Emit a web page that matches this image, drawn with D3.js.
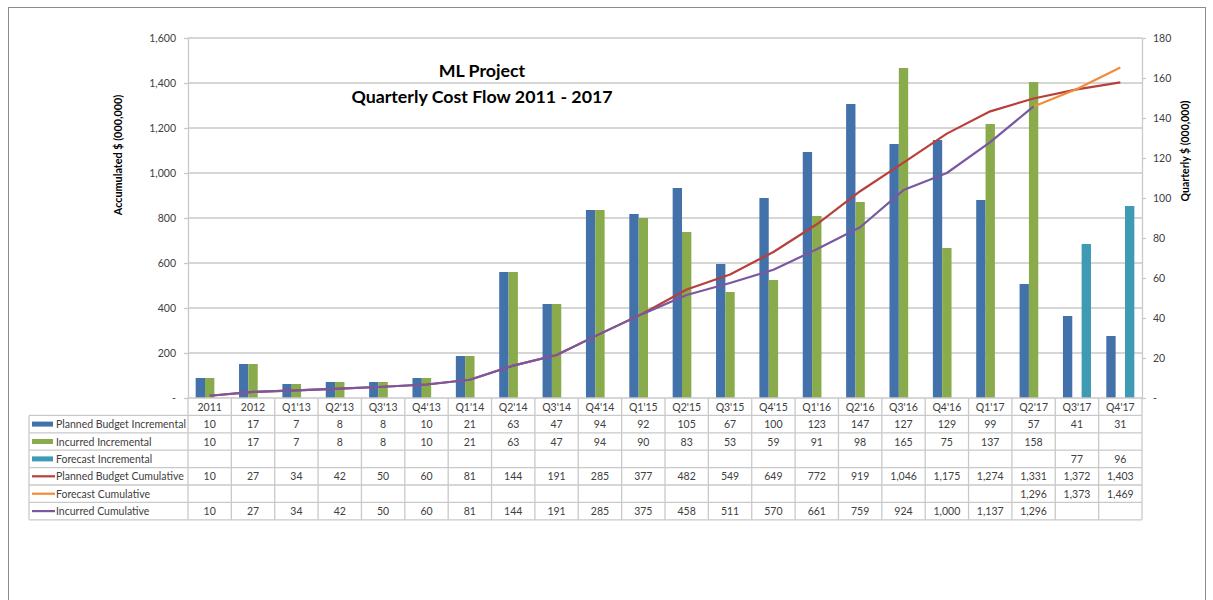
<!DOCTYPE html>
<html>
<head>
<meta charset="utf-8">
<script src="https://cdn.jsdelivr.net/npm/d3@7"></script>
<style>
    body { margin: 0; background: #fff; }
    svg { font-family: Lato, 'Liberation Sans', sans-serif; }
</style>
</head>
<body>
<svg id="chart" width="1213" height="600"></svg>
<script>
// data
const categories = ['2011', '2012', "Q1'13", "Q2'13", "Q3'13", "Q4'13", "Q1'14", "Q2'14", "Q3'14", "Q4'14",
    "Q1'15", "Q2'15", "Q3'15", "Q4'15", "Q1'16", "Q2'16", "Q3'16", "Q4'16", "Q1'17", "Q2'17", "Q3'17", "Q4'17"];

const plannedIncremental = [10, 17, 7, 8, 8, 10, 21, 63, 47, 94, 92, 105, 67, 100, 123, 147, 127, 129, 99, 57, 41, 31];
const incurredIncremental = [10, 17, 7, 8, 8, 10, 21, 63, 47, 94, 90, 83, 53, 59, 91, 98, 165, 75, 137, 158, null, null];
const forecastIncremental = [null, null, null, null, null, null, null, null, null, null, null,
    null, null, null, null, null, null, null, null, null, 77, 96];
const plannedCumulative = [10, 27, 34, 42, 50, 60, 81, 144, 191, 285, 377, 482, 549, 649, 772, 919, 1046, 1175, 1274, 1331, 1372, 1403];
const forecastCumulative = [null, null, null, null, null, null, null, null, null, null, null,
    null, null, null, null, null, null, null, null, 1296, 1373, 1469];
const incurredCumulative = [10, 27, 34, 42, 50, 60, 81, 144, 191, 285, 375, 458, 511, 570, 661, 759, 924, 1000, 1137, 1296, null, null];

const leftTicks = [0, 200, 400, 600, 800, 1000, 1200, 1400, 1600];
const rightTicks = [0, 20, 40, 60, 80, 100, 120, 140, 160, 180];

const series = [
    {name: 'Planned Budget Incremental', values: plannedIncremental, kind: 'bar', color: '#4371aa'},
    {name: 'Incurred Incremental', values: incurredIncremental, kind: 'bar', color: '#8aab4b'},
    {name: 'Forecast Incremental', values: forecastIncremental, kind: 'bar', color: '#3e9bb3'},
    {name: 'Planned Budget Cumulative', values: plannedCumulative, kind: 'line', color: '#b8403c'},
    {name: 'Forecast Cumulative', values: forecastCumulative, kind: 'line', color: '#f28c3a'},
    {name: 'Incurred Cumulative', values: incurredCumulative, kind: 'line', color: '#7a58a1'}
];

let plot = {left: 188, right: 1142, top: 38, bottom: 398},
    rowH = 17.4,
    legendLeft = 29,
    gridColor = '#c9c9c9',
    textColor = '#404040';

const fmt = d3.format(',');
const tickFmt = d => d === 0 ? '-' : fmt(d);

let svg = d3.select('#chart');

// outer frame
svg.append('rect')
    .attr('x', 8.5).attr('y', 7.5)
    .attr('width', 1197).attr('height', 620)
    .attr('fill', 'none')
    .attr('stroke', '#8c8c8c');

let x = d3.scaleBand()
    .domain(categories)
    .range([plot.left, plot.right])
    .padding(0);

let xSub = d3.scaleBand()
    .domain(series.filter(s => s.kind === 'bar').map(s => s.name))
    .range([0, x.bandwidth()])
    .paddingInner(0)
    .paddingOuter(0.82);

let yLeft = d3.scaleLinear().domain([0, 1600]).range([plot.bottom, plot.top]);
let yRight = d3.scaleLinear().domain([0, 180]).range([plot.bottom, plot.top]);

// horizontal gridlines
svg.append('g')
    .selectAll('line')
    .data(leftTicks.filter(d => d > 0))
    .enter().append('line')
    .attr('x1', plot.left).attr('x2', plot.right)
    .attr('y1', d => yLeft(d)).attr('y2', d => yLeft(d))
    .attr('stroke', gridColor)
    .attr('stroke-width', 1.3);

// axes
let gLeft = svg.append('g')
    .attr('transform', 'translate(' + plot.left + ',0)')
    .call(d3.axisLeft(yLeft).tickValues(leftTicks).tickFormat(tickFmt).tickSize(4).tickPadding(8).tickSizeOuter(0));

let gRight = svg.append('g')
    .attr('transform', 'translate(' + plot.right + ',0)')
    .call(d3.axisRight(yRight).tickValues(rightTicks).tickFormat(tickFmt).tickSize(4).tickPadding(7).tickSizeOuter(0));

[gLeft, gRight].forEach(g => {
    g.select('.domain').attr('stroke', gridColor).attr('stroke-width', 1.3);
    g.selectAll('.tick line').attr('stroke', gridColor).attr('stroke-width', 1.3);
    g.selectAll('.tick text')
        .attr('fill', textColor)
        .style('font-size', '10.5px')
        .style('font-family', 'Lato, sans-serif');
});

// bars
let barSeries = series.filter(s => s.kind === 'bar');
barSeries.forEach(s => {
    svg.append('g')
        .selectAll('rect')
        .data(categories.map((c, i) => ({c: c, v: s.values[i]})).filter(d => d.v != null))
        .enter().append('rect')
        .attr('x', d => x(d.c) + xSub(s.name))
        .attr('width', xSub.bandwidth())
        .attr('y', d => yRight(d.v))
        .attr('height', d => yRight(0) - yRight(d.v))
        .attr('fill', s.color);
});

// lines
let line = d3.line()
    .defined(d => d.v != null)
    .x(d => x(d.c) + x.bandwidth() / 2)
    .y(d => yLeft(d.v));

series.filter(s => s.kind === 'line').forEach(s => {
    svg.append('path')
        .datum(categories.map((c, i) => ({c: c, v: s.values[i]})))
        .attr('d', line)
        .attr('fill', 'none')
        .attr('stroke', s.color)
        .attr('stroke-width', 2.2)
        .attr('stroke-linejoin', 'round');
});

// data table under the plot
let table = svg.append('g');
let tableTop = plot.bottom,
    tableBottom = plot.bottom + rowH * (series.length + 1);

// header row
table.selectAll('.hdr')
    .data(categories)
    .enter().append('text')
    .attr('class', 'hdr')
    .attr('x', d => x(d) + x.bandwidth() / 2)
    .attr('y', tableTop + rowH / 2 + 4)
    .attr('text-anchor', 'middle')
    .attr('fill', textColor)
    .style('font-size', '10.5px')
    .text(d => d);

// horizontal rules
table.append('line')
    .attr('x1', plot.left).attr('x2', plot.right)
    .attr('y1', tableTop).attr('y2', tableTop)
    .attr('stroke', gridColor).attr('stroke-width', 1.3);
d3.range(1, series.length + 2).forEach(r => {
    let yy = tableTop + r * rowH;
    table.append('line')
        .attr('x1', legendLeft).attr('x2', plot.right)
        .attr('y1', yy).attr('y2', yy)
        .attr('stroke', gridColor).attr('stroke-width', 1.3);
});

// vertical rules
let colEdges = categories.map(c => x(c)).concat([plot.right]);
table.selectAll('.vr')
    .data(colEdges)
    .enter().append('line')
    .attr('x1', d => d).attr('x2', d => d)
    .attr('y1', tableTop).attr('y2', tableBottom)
    .attr('stroke', gridColor).attr('stroke-width', 1.3);
table.append('line')
    .attr('x1', legendLeft).attr('x2', legendLeft)
    .attr('y1', tableTop + rowH).attr('y2', tableBottom)
    .attr('stroke', gridColor).attr('stroke-width', 1.3);

// series rows
series.forEach((s, r) => {
    let cy = tableTop + (r + 1) * rowH + rowH / 2;
    if (s.kind === 'bar') {
        table.append('rect')
            .attr('x', 32).attr('y', cy - 2.5)
            .attr('width', 21).attr('height', 5)
            .attr('fill', s.color);
    } else {
        table.append('line')
            .attr('x1', 32).attr('x2', 55)
            .attr('y1', cy).attr('y2', cy)
            .attr('stroke', s.color).attr('stroke-width', 2.2);
    }
    table.append('text')
        .attr('x', 56)
        .attr('y', cy + 4)
        .attr('fill', textColor)
        .style('font-size', '10.5px')
        .text(s.name);

    table.append('g')
        .selectAll('text')
        .data(categories.map((c, i) => ({c: c, v: s.values[i]})).filter(d => d.v != null))
        .enter().append('text')
        .attr('x', d => x(d.c) + x.bandwidth() / 2)
        .attr('y', cy + 4)
        .attr('text-anchor', 'middle')
        .attr('fill', textColor)
        .style('font-size', '10.5px')
        .text(d => fmt(d.v));
});

// axis titles
svg.append('text')
    .attr('transform', 'translate(122,155) rotate(-90)')
    .attr('text-anchor', 'middle')
    .style('font-size', '10.8px')
    .style('font-weight', 'bold')
    .text('Accumulated $ (000,000)');

svg.append('text')
    .attr('transform', 'translate(1189,151) rotate(-90)')
    .attr('text-anchor', 'middle')
    .style('font-size', '10.5px')
    .style('font-weight', 'bold')
    .text('Quarterly $ (000,000)');

// chart title
svg.append('text')
    .attr('x', 482).attr('y', 77)
    .attr('text-anchor', 'middle')
    .style('font-size', '17.8px')
    .style('font-weight', 'bold')
    .text('ML Project');
svg.append('text')
    .attr('x', 482).attr('y', 103)
    .attr('text-anchor', 'middle')
    .style('font-size', '17.8px')
    .style('font-weight', 'bold')
    .text('Quarterly Cost Flow 2011 - 2017');
</script>
</body>
</html>
